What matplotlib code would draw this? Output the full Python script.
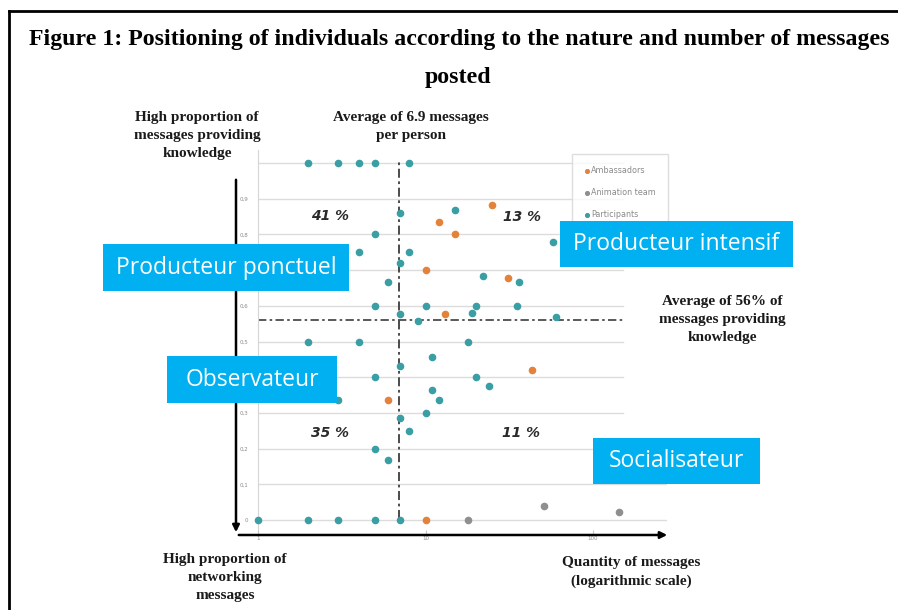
import matplotlib
matplotlib.use("Agg")
import matplotlib.pyplot as plt
from matplotlib.patches import Rectangle, FancyArrowPatch
from matplotlib.lines import Line2D

# data (x = messages, y = share of knowledge messages)
part_x = [2, 3, 4, 5, 8, 7, 5, 4, 8, 7, 6, 5, 10, 7, 9, 2, 4,
          15, 58, 22, 36, 20, 35, 19, 60, 18,
          7, 5, 3, 10, 7, 8, 5, 6, 11, 20, 24, 11, 12,
          1, 2, 3, 5, 7]
part_y = [1.0, 1.0, 1.0, 1.0, 1.0, 0.86, 0.8, 0.75, 0.75, 0.72, 0.667, 0.6, 0.6, 0.577, 0.557, 0.5, 0.5,
          0.868, 0.778, 0.684, 0.667, 0.6, 0.6, 0.581, 0.568, 0.5,
          0.431, 0.4, 0.336, 0.3, 0.285, 0.25, 0.2, 0.168, 0.456, 0.4, 0.376, 0.364, 0.336,
          0, 0, 0, 0, 0]
amb_x = [25, 12, 15, 10, 31, 13, 6, 43, 10]
amb_y = [0.882, 0.836, 0.8, 0.7, 0.679, 0.577, 0.336, 0.42, 0]
anim_x = [51, 18, 142]
anim_y = [0.04, 0, 0.023]

avg_msgs = 6.9
avg_share = 0.56
y_ticks = [0, 0.1, 0.2, 0.3, 0.4, 0.5, 0.6, 0.7, 0.8, 0.9]
# 0,4 and 0,7 sit under the blue overlay boxes in the scan
y_labels = ["0", "0,1", "0,2", "0,3", "", "0,5", "0,6", "", "0,8", "0,9"]
x_ticks = [1, 10, 100]
x_labels = ["1", "10", "100"]
grid_levels = [0, 0.1, 0.2, 0.3, 0.4, 0.5, 0.6, 0.7, 0.8, 0.9, 1.0]

quadrants = ["41 %", "13 %", "35 %", "11 %"]
boxes = ["Producteur ponctuel", "Producteur intensif", "Observateur", "Socialisateur"]

W, H = 898, 610
def fx(px):
    return px / W
def fy(py):
    return 1 - py / H

ORANGE = "#e5823a"
GRAY = "#8f8f8f"
TEAL = "#3a9ea5"
BLUE = "#00b0f0"

fig = plt.figure(figsize=(W / 100, H / 100), dpi=100)
fig.patch.set_facecolor("white")

# plot area: x=1 at px 258, decade = 167.5 px ; y=0 at px 520, 0.1 = 35.7 px
ax_l, ax_r, ax_t, ax_b = 258, 667, 150, 530
ax = fig.add_axes([fx(ax_l), fy(ax_b), (ax_r - ax_l) / W, (ax_b - ax_t) / H])
ax.set_xscale("log")
ax.set_xlim(1, 10 ** ((ax_r - 258) / 167.5))
ax.set_ylim((520 - ax_b) / 357, (520 - ax_t) / 357)

for lv in grid_levels:
    right = 1.0 if lv < 0.15 else 0.892
    ax.axhline(lv, xmin=0, xmax=right, color="#dcdcdc", lw=1, zorder=1)

ax.axvline(avg_msgs, ymin=0.03, ymax=0.975, color="#3d3d3d", lw=1.3,
           ls=(0, (5, 2, 1.5, 2)), zorder=2)
ax.axhline(avg_share, xmin=0, xmax=0.892, color="#3d3d3d", lw=1.2,
           ls=(0, (5, 2, 1.5, 2)), zorder=2)

ax.scatter(amb_x, amb_y, s=20, color=ORANGE, label="Ambassadors", zorder=3, clip_on=False)
ax.scatter(anim_x, anim_y, s=20, color=GRAY, label="Animation team", zorder=3, clip_on=False)
ax.scatter(part_x, part_y, s=20, color=TEAL, label="Participants", zorder=3, clip_on=False)

for s in ["top", "right", "bottom"]:
    ax.spines[s].set_visible(False)
ax.spines["left"].set_color("#d5d5d5")
ax.set_yticks(y_ticks)
ax.set_yticklabels(y_labels)
ax.set_xticks(x_ticks)
ax.set_xticklabels(x_labels)
ax.minorticks_off()
ax.tick_params(axis="y", length=0, labelsize=4, labelcolor="#8a8a8a", pad=7)
ax.tick_params(axis="x", length=3, color="#c8c8c8", labelsize=4, labelcolor="#8a8a8a", pad=1)

leg = ax.legend(loc="upper left", bbox_to_anchor=(fx(568), fy(150)),
                bbox_transform=fig.transFigure, fontsize=5.8, frameon=True,
                fancybox=False, edgecolor="#d6d6d6", handletextpad=0.1,
                handlelength=0.8, labelspacing=1.6, borderpad=1.5, markerscale=0.6)
for t in leg.get_texts():
    t.set_color("#8a8a8a")

# frame around the scanned figure
fig.add_artist(Line2D([fx(9), 1], [fy(11), fy(11)], color="black", lw=2))
fig.add_artist(Line2D([fx(9), fx(9)], [fy(11), 0], color="black", lw=2))

# black axis arrows
fig.add_artist(FancyArrowPatch((fx(236), fy(535)), (fx(670), fy(535)),
                               transform=fig.transFigure, arrowstyle="-|>",
                               mutation_scale=10, lw=1.8, color="black"))
fig.add_artist(FancyArrowPatch((fx(236), fy(177)), (fx(236), fy(535)),
                               transform=fig.transFigure, arrowstyle="-|>",
                               mutation_scale=10, lw=1.8, color="black"))

serif = ["Liberation Serif", "DejaVu Serif"]
fig.text(fx(459), fy(39), "Figure 1: Positioning of individuals according to the nature and number of messages",
         ha="center", va="center", fontsize=17.2, fontweight="bold", family=serif)
fig.text(fx(458), fy(78), "posted", ha="center", va="center", fontsize=17.2,
         fontweight="bold", family=serif)

lab = dict(ha="center", va="center", fontsize=11, fontweight="bold", family=serif,
           linespacing=1.5, color="#1a1a1a")
fig.text(fx(197), fy(135), "High proportion of\nmessages providing\nknowledge", **lab)
fig.text(fx(411), fy(126), "Average of 6.9 messages\nper person", **lab)
fig.text(fx(722), fy(320), "Average of 56% of\nmessages providing\nknowledge", **lab)
fig.text(fx(225), fy(577), "High proportion of\nnetworking\nmessages", **lab)
fig.text(fx(631), fy(572), "Quantity of messages\n(logarithmic scale)", **lab)

q_pos = [(330, 216), (522, 217), (330, 433), (521, 433)]
for (px, py), q in zip(q_pos, quadrants):
    fig.text(fx(px), fy(py), q, ha="center", va="center", fontsize=10,
             style="italic", fontweight="semibold", color="#2a2a2a")

# blue overlay labels
b_pos = [(103, 244, 349, 291), (560, 221, 793, 267), (167, 356, 337, 403), (593, 438, 760, 484)]
for (x0, y0, x1, y1), name in zip(b_pos, boxes):
    fig.add_artist(Rectangle((fx(x0), fy(y1)), (x1 - x0) / W, (y1 - y0) / H,
                             transform=fig.transFigure, facecolor=BLUE,
                             edgecolor="none", zorder=5))
    fig.text(fx((x0 + x1) / 2), fy((y0 + y1) / 2), name, ha="center", va="center",
             fontsize=16.5, color="white", family=["Open Sans", "DejaVu Sans"], zorder=6)

fig.savefig("out.png", dpi=100)
